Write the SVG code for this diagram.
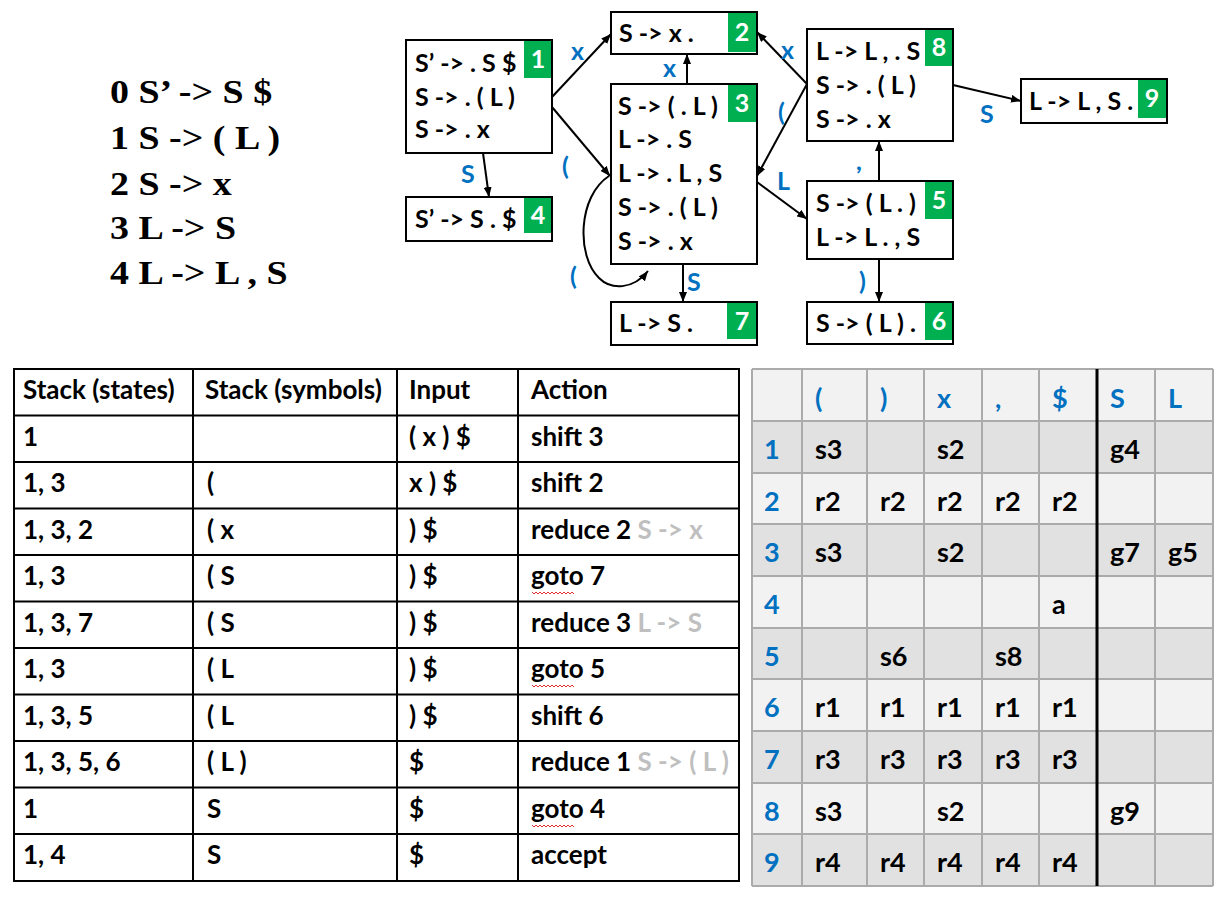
<svg xmlns="http://www.w3.org/2000/svg" width="1228" height="904" viewBox="0 0 1228 904">
<defs>
<style>
.gram{font-family:"Liberation Serif",serif;font-weight:bold;font-size:33px;fill:#000}
.bt{font-family:Lato,"Liberation Sans",sans-serif;font-weight:bold;font-size:25px;fill:#000}
.box{fill:#fff;stroke:#000;stroke-width:2}
.bdg{fill:#00B050}
.num{font-family:Lato,"Liberation Sans",sans-serif;font-weight:bold;font-size:25px;fill:#fff;text-anchor:middle}
.el{font-family:Lato,"Liberation Sans",sans-serif;font-weight:bold;font-size:25px;fill:#0070C0}
.edge{fill:none;stroke:#000;stroke-width:2}
.tt{font-family:Lato,"Liberation Sans",sans-serif;font-weight:bold;font-size:26px;fill:#000}
.gr{fill:#BFBFBF}
.tl{stroke:#000;stroke-width:2}
.rt{font-family:Lato,"Liberation Sans",sans-serif;font-weight:bold;font-size:27px;fill:#000}
.bl{fill:#0070C0}
.gl{stroke:#ABABAB;stroke-width:2}
.sq{fill:none;stroke:#E03030;stroke-width:1}
</style>
<marker id="ah" viewBox="0 0 10 8" refX="10" refY="4" markerWidth="10" markerHeight="8" markerUnits="userSpaceOnUse" orient="auto"><path d="M0,0 L10,4 L0,8 z" fill="#000"/></marker>
</defs>
<rect width="1228" height="904" fill="#fff"/>
<g id="grammar" transform="translate(110,0) scale(1.15,1)">
<text class="gram" x="0" y="103">0 S’ -&gt; S $</text>
<text class="gram" x="0" y="149">1 S -&gt; ( L )</text>
<text class="gram" x="0" y="195">2 S -&gt; x</text>
<text class="gram" x="0" y="239">3 L -&gt; S</text>
<text class="gram" x="0" y="284">4 L -&gt; L , S</text>
</g>
<g id="connectors">
<path class="edge" marker-end="url(#ah)" d="M552 97 L611 34"/>
<path class="edge" marker-end="url(#ah)" d="M552 107 L610 176"/>
<path class="edge" marker-end="url(#ah)" d="M687 84 L687 54"/>
<path class="edge" marker-end="url(#ah)" d="M807 84 L757 32"/>
<path class="edge" marker-end="url(#ah)" d="M807 84 L757 176"/>
<path class="edge" marker-end="url(#ah)" d="M757 182 L807 219"/>
<path class="edge" marker-end="url(#ah)" d="M483 153 L489 197"/>
<path class="edge" marker-end="url(#ah)" d="M683 264 L683 302"/>
<path class="edge" marker-end="url(#ah)" d="M609 176 C578 196 576 256 599 278 C611 290 633 290 648 271"/>
<path class="edge" marker-end="url(#ah)" d="M879 181 L879 141"/>
<path class="edge" marker-end="url(#ah)" d="M879 259 L879 302"/>
<path class="edge" marker-end="url(#ah)" d="M953 85 L1021 101"/>
<text class="el" x="571" y="60">x</text>
<text class="el" x="663" y="77">x</text>
<text class="el" x="781" y="59">x</text>
<text class="el" x="778" y="121">(</text>
<text class="el" x="562" y="175">(</text>
<text class="el" x="461" y="183">S</text>
<text class="el" x="777" y="190">L</text>
<text class="el" x="570" y="285">(</text>
<text class="el" x="687" y="291">S</text>
<text class="el" x="856" y="170">,</text>
<text class="el" x="859" y="290">)</text>
<text class="el" x="980" y="123">S</text>
</g>
<g id="state1">
<rect class="box" x="406" y="40" width="146" height="113"/>
<rect class="bdg" x="524" y="41" width="27" height="37"/>
<text class="num" x="538" y="68">1</text>
<text class="bt" x="415" y="72">S’ -&gt; . S $</text>
<text class="bt" x="415" y="106">S -&gt; . ( L )</text>
<text class="bt" x="415" y="138">S -&gt; . x</text>
</g>
<g id="state2">
<rect class="box" x="611" y="12" width="146" height="42"/>
<rect class="bdg" x="728" y="13" width="28" height="39"/>
<text class="num" x="742" y="41">2</text>
<text class="bt" x="619" y="42">S -&gt; x .</text>
</g>
<g id="state3">
<rect class="box" x="611" y="84" width="146" height="180"/>
<rect class="bdg" x="728" y="85" width="28" height="37"/>
<text class="num" x="742" y="112">3</text>
<text class="bt" x="618" y="115">S -&gt; ( . L )</text>
<text class="bt" x="618" y="148">L -&gt; . S</text>
<text class="bt" x="618" y="182">L -&gt; . L , S</text>
<text class="bt" x="618" y="216">S -&gt; . ( L )</text>
<text class="bt" x="618" y="250">S -&gt; . x</text>
</g>
<g id="state4">
<rect class="box" x="406" y="197" width="146" height="44"/>
<rect class="bdg" x="524" y="198" width="27" height="35"/>
<text class="num" x="538" y="224">4</text>
<text class="bt" x="415" y="228">S’ -&gt; S . $</text>
</g>
<g id="state5">
<rect class="box" x="807" y="181" width="146" height="78"/>
<rect class="bdg" x="925" y="182" width="27" height="37"/>
<text class="num" x="939" y="209">5</text>
<text class="bt" x="816" y="212">S -&gt; ( L . )</text>
<text class="bt" x="816" y="246">L -&gt; L . , S</text>
</g>
<g id="state6">
<rect class="box" x="807" y="302" width="146" height="42"/>
<rect class="bdg" x="925" y="303" width="27" height="37"/>
<text class="num" x="939" y="330">6</text>
<text class="bt" x="816" y="332">S -&gt; ( L ) .</text>
</g>
<g id="state7">
<rect class="box" x="611" y="302" width="146" height="43"/>
<rect class="bdg" x="727" y="303" width="29" height="36"/>
<text class="num" x="742" y="330">7</text>
<text class="bt" x="619" y="332">L -&gt; S .</text>
</g>
<g id="state8">
<rect class="box" x="807" y="29" width="146" height="112"/>
<rect class="bdg" x="925" y="30" width="27" height="36"/>
<text class="num" x="939" y="56">8</text>
<text class="bt" x="816" y="60">L -&gt; L , . S</text>
<text class="bt" x="816" y="94">S -&gt; . ( L )</text>
<text class="bt" x="816" y="128">S -&gt; . x</text>
</g>
<g id="state9">
<rect class="box" x="1021" y="79" width="146" height="44"/>
<rect class="bdg" x="1138" y="80" width="28" height="38"/>
<text class="num" x="1152" y="107">9</text>
<text class="bt" x="1029" y="110">L -&gt; L , S .</text>
</g>
<g id="trace-table">
<rect x="14" y="369" width="725" height="512" fill="#fff"/>
<g class="tl">
<line x1="14" y1="369" x2="739" y2="369"/>
<line x1="14" y1="415.5" x2="739" y2="415.5"/>
<line x1="14" y1="462" x2="739" y2="462"/>
<line x1="14" y1="508.5" x2="739" y2="508.5"/>
<line x1="14" y1="555" x2="739" y2="555"/>
<line x1="14" y1="601.5" x2="739" y2="601.5"/>
<line x1="14" y1="648" x2="739" y2="648"/>
<line x1="14" y1="694.5" x2="739" y2="694.5"/>
<line x1="14" y1="741" x2="739" y2="741"/>
<line x1="14" y1="787.5" x2="739" y2="787.5"/>
<line x1="14" y1="834" x2="739" y2="834"/>
<line x1="14" y1="881" x2="739" y2="881"/>
<line x1="14" y1="368" x2="14" y2="882"/>
<line x1="193" y1="368" x2="193" y2="882"/>
<line x1="397" y1="368" x2="397" y2="882"/>
<line x1="518" y1="368" x2="518" y2="882"/>
<line x1="739" y1="368" x2="739" y2="882"/>
</g>
<text class="tt" x="23" y="399">Stack (states)</text>
<text class="tt" x="205" y="399">Stack (symbols)</text>
<text class="tt" x="409" y="399">Input</text>
<text class="tt" x="531" y="399">Action</text>
<text class="tt" x="23" y="446">1</text>
<text class="tt" x="409" y="446">( x ) $</text>
<text class="tt" x="531" y="446">shift 3</text>
<text class="tt" x="23" y="492">1, 3</text>
<text class="tt" x="207" y="492">(</text>
<text class="tt" x="409" y="492">x ) $</text>
<text class="tt" x="531" y="492">shift 2</text>
<text class="tt" x="23" y="539">1, 3, 2</text>
<text class="tt" x="207" y="539">( x</text>
<text class="tt" x="409" y="539">) $</text>
<text class="tt" x="531" y="539">reduce 2 <tspan class="gr">S -&gt; x</tspan></text>
<text class="tt" x="23" y="585">1, 3</text>
<text class="tt" x="207" y="585">( S</text>
<text class="tt" x="409" y="585">) $</text>
<text class="tt" x="531" y="585">goto 7</text>
<text class="tt" x="23" y="632">1, 3, 7</text>
<text class="tt" x="207" y="632">( S</text>
<text class="tt" x="409" y="632">) $</text>
<text class="tt" x="531" y="632">reduce 3 <tspan class="gr">L -&gt; S</tspan></text>
<text class="tt" x="23" y="678">1, 3</text>
<text class="tt" x="207" y="678">( L</text>
<text class="tt" x="409" y="678">) $</text>
<text class="tt" x="531" y="678">goto 5</text>
<text class="tt" x="23" y="725">1, 3, 5</text>
<text class="tt" x="207" y="725">( L</text>
<text class="tt" x="409" y="725">) $</text>
<text class="tt" x="531" y="725">shift 6</text>
<text class="tt" x="23" y="771">1, 3, 5, 6</text>
<text class="tt" x="207" y="771">( L )</text>
<text class="tt" x="409" y="771">$</text>
<text class="tt" x="531" y="771">reduce 1 <tspan class="gr">S -&gt; ( L )</tspan></text>
<text class="tt" x="23" y="818">1</text>
<text class="tt" x="207" y="818">S</text>
<text class="tt" x="409" y="818">$</text>
<text class="tt" x="531" y="818">goto 4</text>
<text class="tt" x="23" y="864">1, 4</text>
<text class="tt" x="207" y="864">S</text>
<text class="tt" x="409" y="864">$</text>
<text class="tt" x="531" y="864">accept</text>
<path class="sq" d="M532 592 l2 2 l2 -2 l2 2 l2 -2 l2 2 l2 -2 l2 2 l2 -2 l2 2 l2 -2 l2 2 l2 -2 l2 2 l2 -2 l2 2 l2 -2 l2 2 l2 -2 l2 2 l2 -2 l2 2"/>
<path class="sq" d="M532 685 l2 2 l2 -2 l2 2 l2 -2 l2 2 l2 -2 l2 2 l2 -2 l2 2 l2 -2 l2 2 l2 -2 l2 2 l2 -2 l2 2 l2 -2 l2 2 l2 -2 l2 2 l2 -2 l2 2"/>
<path class="sq" d="M532 825 l2 2 l2 -2 l2 2 l2 -2 l2 2 l2 -2 l2 2 l2 -2 l2 2 l2 -2 l2 2 l2 -2 l2 2 l2 -2 l2 2 l2 -2 l2 2 l2 -2 l2 2 l2 -2 l2 2"/>
</g>
<g id="parse-table">
<rect x="752" y="369" width="461" height="517" fill="#F2F2F2"/>
<rect x="752" y="421" width="461" height="52" fill="#E1E1E1"/>
<rect x="752" y="524" width="461" height="52" fill="#E1E1E1"/>
<rect x="752" y="628" width="461" height="51" fill="#E1E1E1"/>
<rect x="752" y="731" width="461" height="52" fill="#E1E1E1"/>
<rect x="752" y="834" width="461" height="52" fill="#E1E1E1"/>
<g class="gl">
<line x1="752" y1="369" x2="1213" y2="369"/>
<line x1="752" y1="421" x2="1213" y2="421"/>
<line x1="752" y1="473" x2="1213" y2="473"/>
<line x1="752" y1="524" x2="1213" y2="524"/>
<line x1="752" y1="576" x2="1213" y2="576"/>
<line x1="752" y1="628" x2="1213" y2="628"/>
<line x1="752" y1="679" x2="1213" y2="679"/>
<line x1="752" y1="731" x2="1213" y2="731"/>
<line x1="752" y1="783" x2="1213" y2="783"/>
<line x1="752" y1="834" x2="1213" y2="834"/>
<line x1="752" y1="886" x2="1213" y2="886"/>
<line x1="752" y1="369" x2="752" y2="886"/>
<line x1="802" y1="369" x2="802" y2="886"/>
<line x1="867" y1="369" x2="867" y2="886"/>
<line x1="924" y1="369" x2="924" y2="886"/>
<line x1="982" y1="369" x2="982" y2="886"/>
<line x1="1039" y1="369" x2="1039" y2="886"/>
<line x1="1155" y1="369" x2="1155" y2="886"/>
<line x1="1213" y1="369" x2="1213" y2="886"/>
</g>
<line x1="1097" y1="369" x2="1097" y2="886" stroke="#000" stroke-width="3"/>
<g class="rt bl">
<text x="815" y="408">(</text>
<text x="880" y="408">)</text>
<text x="937" y="408">x</text>
<text x="995" y="408">,</text>
<text x="1052" y="408">$</text>
<text x="1110" y="408">S</text>
<text x="1168" y="408">L</text>
<text x="764" y="459">1</text>
<text x="764" y="511">2</text>
<text x="764" y="562">3</text>
<text x="764" y="614">4</text>
<text x="764" y="666">5</text>
<text x="764" y="717">6</text>
<text x="764" y="769">7</text>
<text x="764" y="821">8</text>
<text x="764" y="872">9</text>
</g>
<g class="rt">
<text x="815" y="459">s3</text><text x="937" y="459">s2</text><text x="1110" y="459">g4</text>
<text x="815" y="511">r2</text><text x="880" y="511">r2</text><text x="937" y="511">r2</text><text x="995" y="511">r2</text><text x="1052" y="511">r2</text>
<text x="815" y="562">s3</text><text x="937" y="562">s2</text><text x="1110" y="562">g7</text><text x="1168" y="562">g5</text>
<text x="1052" y="614">a</text>
<text x="880" y="666">s6</text><text x="995" y="666">s8</text>
<text x="815" y="717">r1</text><text x="880" y="717">r1</text><text x="937" y="717">r1</text><text x="995" y="717">r1</text><text x="1052" y="717">r1</text>
<text x="815" y="769">r3</text><text x="880" y="769">r3</text><text x="937" y="769">r3</text><text x="995" y="769">r3</text><text x="1052" y="769">r3</text>
<text x="815" y="821">s3</text><text x="937" y="821">s2</text><text x="1110" y="821">g9</text>
<text x="815" y="872">r4</text><text x="880" y="872">r4</text><text x="937" y="872">r4</text><text x="995" y="872">r4</text><text x="1052" y="872">r4</text>
</g>
</g>
</svg>
